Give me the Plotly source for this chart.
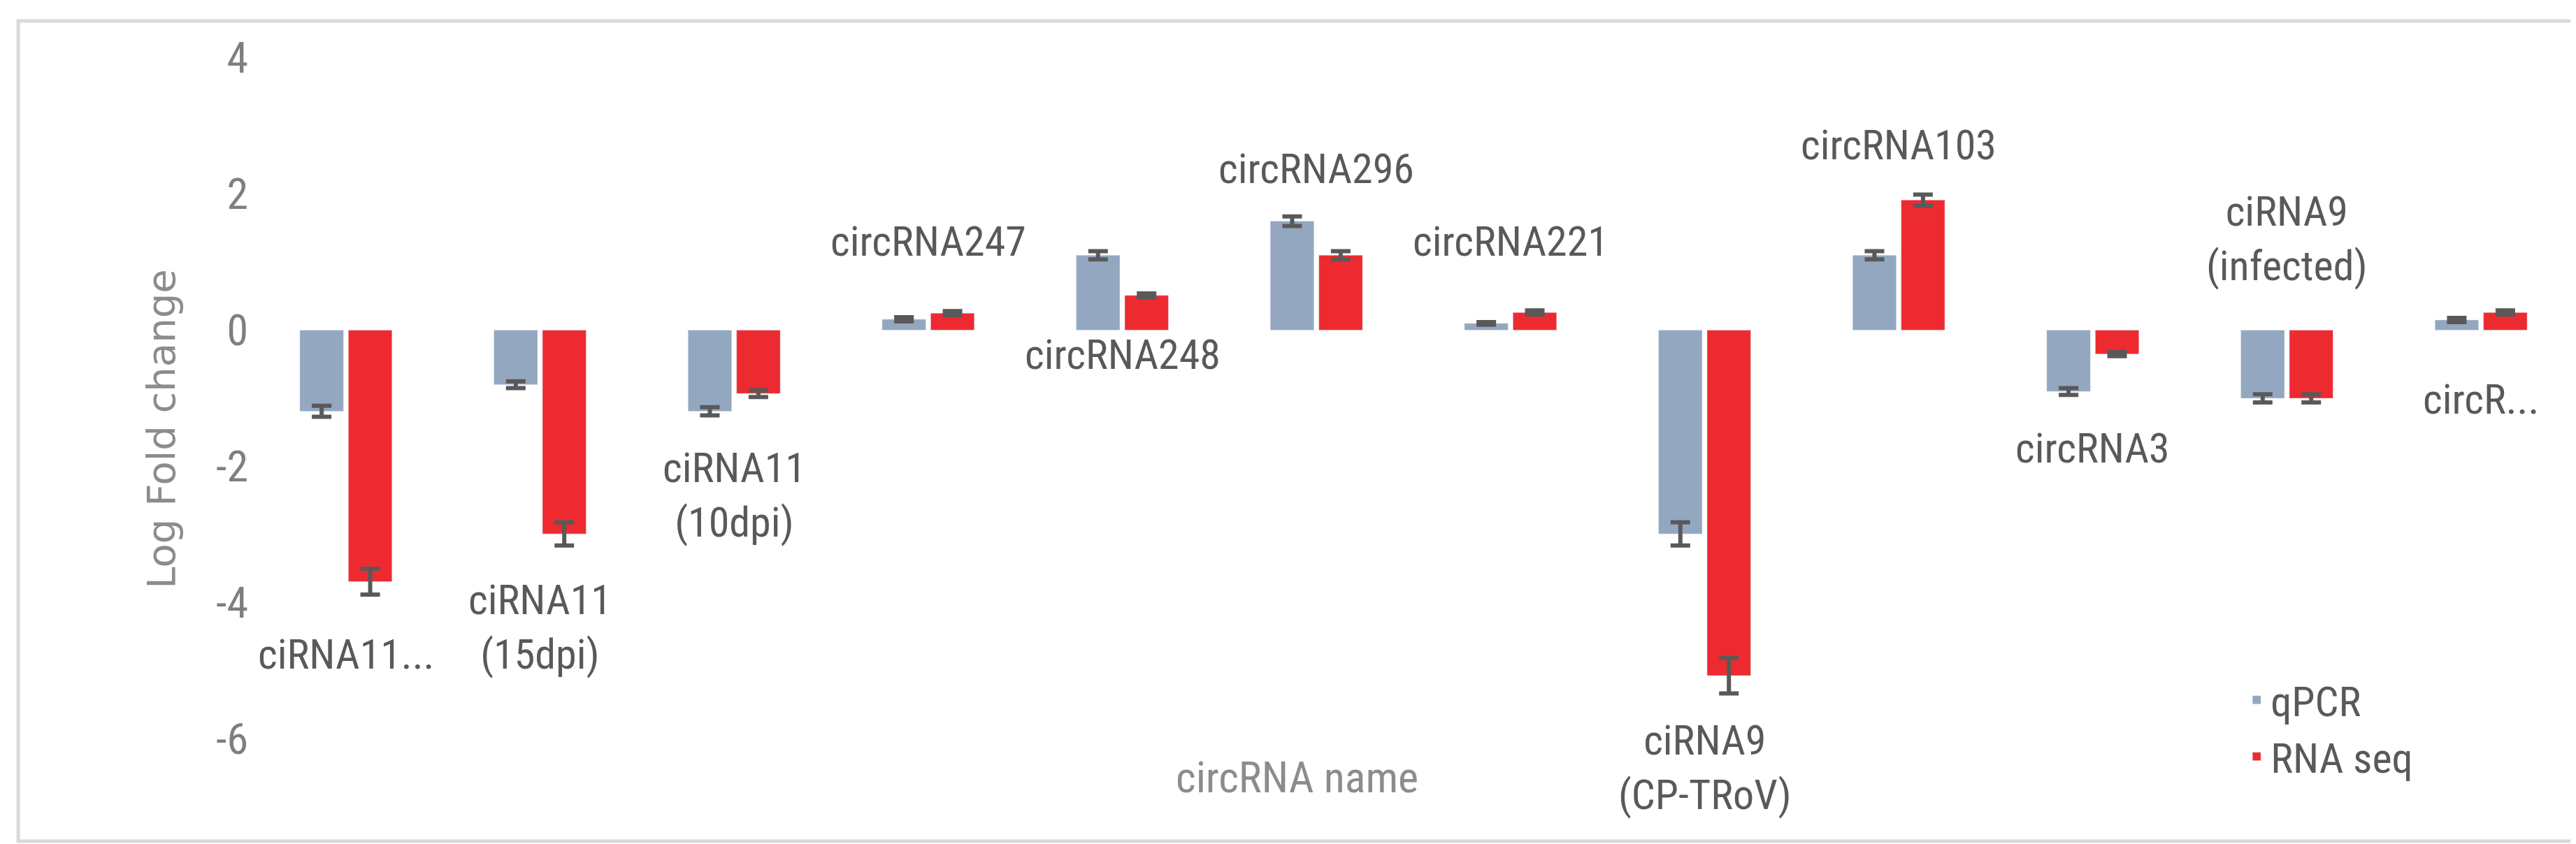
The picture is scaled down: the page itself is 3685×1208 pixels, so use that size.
import plotly.graph_objects as go

names = ["ciRNA11...", "ciRNA11<br>(15dpi)", "ciRNA11<br>(10dpi)", "circRNA247", "circRNA248",
         "circRNA296", "circRNA221", "ciRNA9<br>(CP-TRoV)", "circRNA103", "circRNA3",
         "ciRNA9<br>(infected)", "circR..."]
qpcr = [-1.19, -0.80, -1.19, 0.16, 1.10, 1.60, 0.10, -2.99, 1.10, -0.90, -1.00, 0.15]
qpcr_err = [0.08, 0.05, 0.06, 0.03, 0.06, 0.07, 0.02, 0.17, 0.06, 0.05, 0.06, 0.03]
rnaseq = [-3.69, -2.99, -0.93, 0.25, 0.51, 1.10, 0.26, -5.07, 1.91, -0.35, -1.00, 0.26]
rnaseq_err = [0.19, 0.17, 0.05, 0.03, 0.03, 0.06, 0.03, 0.26, 0.08, 0.03, 0.06, 0.03]
label_y = [-4.76, -4.36, -2.42, 1.30, -0.36, 2.37, 1.30, -6.42, 2.72, -1.73, 1.34, -1.01]
yticks = [-6, -4, -2, 0, 2, 4]

FONT = "Liberation Sans Narrow, Roboto Condensed, Liberation Sans, sans-serif"
GREY = "#595959"
x = list(range(len(names)))

fig = go.Figure()
fig.add_bar(x=x, y=qpcr, name="qPCR", marker_color="#94a7c0",
            error_y=dict(type="data", array=qpcr_err, color=GREY, thickness=6, width=14))
fig.add_bar(x=x, y=rnaseq, name="RNA seq", marker_color="#ee2a31",
            error_y=dict(type="data", array=rnaseq_err, color=GREY, thickness=6, width=14))

for i, (n, ly) in enumerate(zip(names, label_y)):
    fig.add_annotation(x=i, y=ly, text=n, showarrow=False,
                       font=dict(family=FONT, size=60, color=GREY))

fig.add_annotation(x=0.45, y=0.045, xref="paper", yref="paper", text="circRNA name",
                   showarrow=False, font=dict(family=FONT, size=62, color="#8c8c8c"))

fig.add_shape(type="rect", xref="paper", yref="paper", x0=-0.099, x1=0.9985, y0=0.0, y1=0.995,
              line=dict(color="#d9d9d9", width=5))

fig.update_layout(
    width=3685, height=1208,
    margin=dict(l=348, r=5, t=16, b=12),
    plot_bgcolor="white", paper_bgcolor="white",
    barmode="group", bargap=0.5, bargroupgap=0.1,
    font=dict(family=FONT, color=GREY),
    legend=dict(x=0.856, y=0.21, xanchor="left", yanchor="top",
                font=dict(family=FONT, size=60, color=GREY),
                bgcolor="rgba(0,0,0,0)", itemwidth=30, tracegroupgap=10),
)
fig.update_xaxes(range=[-0.5, 11.5], showticklabels=False, showgrid=False,
                 zeroline=False, showline=False, ticks="")
fig.update_yaxes(range=[-7.5, 4.6], tickvals=yticks, ticktext=[str(v) for v in yticks],
                 showgrid=False, zeroline=False, showline=False,
                 tickfont=dict(family=FONT, size=62, color="#7f7f7f"),
                 title=dict(text="Log Fold change", standoff=40,
                            font=dict(family="DejaVu Sans, sans-serif", size=56, color="#8c8c8c")))

fig.write_html("out.html")
